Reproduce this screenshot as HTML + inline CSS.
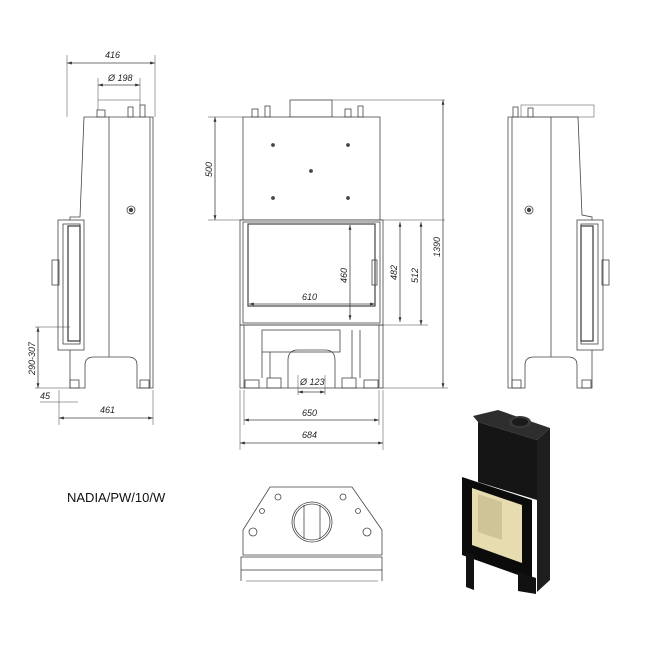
<!DOCTYPE html>
<html><head><meta charset="utf-8"><style>
html,body{margin:0;padding:0;background:#fff;width:650px;height:650px;overflow:hidden}
svg{display:block}
text{font-family:"Liberation Sans",Arial,sans-serif;font-size:9px;fill:#222;font-style:italic}
</style></head><body>
<svg width="650" height="650" viewBox="0 0 650 650" xmlns="http://www.w3.org/2000/svg">
<defs>
<marker id="a" viewBox="0 0 10 10" refX="10" refY="5" markerWidth="6" markerHeight="6" orient="auto-start-reverse"><path d="M0,2 L10,5 L0,8 z" fill="#333"/></marker>
</defs>
<g stroke="#444" stroke-width="0.8" fill="none">
<!-- LEFT SIDE VIEW -->
<path d="M84,117 L153,117 L153,388 L137,388 L137,365 Q137,357 128,357 L94,357 Q85,357 85,365 L85,388 L70,388 L70,217 L80,217 Z" fill="#fff"/>
<line x1="109" y1="117" x2="109" y2="357"/>
<line x1="150" y1="117" x2="150" y2="388"/>
<rect x="58" y="220" width="26" height="130" fill="#fff"/>
<rect x="63" y="224" width="17" height="120"/>
<rect x="68" y="226" width="12" height="115" stroke-width="1.3"/>
<rect x="52" y="260" width="7" height="25"/>
<rect x="97" y="110" width="8" height="7"/><rect x="128" y="107" width="5" height="10"/><rect x="140" y="105" width="5" height="12"/>
<circle cx="131" cy="210" r="4"/><circle cx="131" cy="210" r="1.8" fill="#444"/>
<rect x="70" y="380" width="9" height="8"/><rect x="140" y="380" width="9" height="8"/>
<line x1="67" y1="55" x2="67" y2="117" stroke-width="0.5"/><line x1="155" y1="55" x2="155" y2="117" stroke-width="0.5"/>
<line x1="67" y1="63" x2="155" y2="63" marker-start="url(#a)" marker-end="url(#a)"/>
<line x1="98" y1="78" x2="98" y2="110" stroke-width="0.5"/><line x1="140" y1="78" x2="140" y2="105" stroke-width="0.5"/>
<line x1="98" y1="85" x2="140" y2="85" marker-start="url(#a)" marker-end="url(#a)"/>
<line x1="98" y1="100" x2="140" y2="100" stroke-width="0.5"/>
<line x1="59" y1="390" x2="59" y2="425" stroke-width="0.5"/><line x1="153" y1="390" x2="153" y2="425" stroke-width="0.5"/>
<line x1="59" y1="418" x2="153" y2="418" marker-start="url(#a)" marker-end="url(#a)"/>
<line x1="40" y1="402" x2="78" y2="402" stroke-width="0.6"/>
<line x1="35" y1="327" x2="70" y2="327" stroke-width="0.5"/><line x1="35" y1="388" x2="70" y2="388" stroke-width="0.5"/>
<line x1="38" y1="327" x2="38" y2="388" marker-start="url(#a)" marker-end="url(#a)"/>

<!-- FRONT VIEW -->
<rect x="290" y="100" width="42" height="17"/>
<line x1="332" y1="100" x2="445" y2="100" stroke-width="0.5"/>
<rect x="243" y="117" width="137" height="103" fill="#fff"/>
<rect x="252" y="109" width="6" height="8"/><rect x="265" y="106" width="5" height="11"/><rect x="345" y="109" width="6" height="8"/><rect x="358" y="106" width="5" height="11"/>
<circle cx="273" cy="145" r="1.5" fill="#444"/><circle cx="348" cy="145" r="1.5" fill="#444"/><circle cx="311" cy="171" r="1.5" fill="#444"/><circle cx="273" cy="198" r="1.5" fill="#444"/><circle cx="348" cy="198" r="1.5" fill="#444"/>
<rect x="240" y="220" width="143" height="105" fill="#fff"/>
<rect x="243" y="222" width="137" height="101"/>
<rect x="248" y="224" width="127" height="82" stroke-width="1.2"/>
<rect x="372" y="260" width="5" height="25"/>
<rect x="240" y="325" width="143" height="63"/>
<rect x="262" y="330" width="78" height="22"/>
<line x1="244" y1="325" x2="244" y2="388"/><line x1="379" y1="325" x2="379" y2="388"/>
<line x1="262" y1="352" x2="262" y2="378"/><line x1="270" y1="352" x2="270" y2="378"/>
<line x1="352" y1="330" x2="352" y2="378"/><line x1="360" y1="330" x2="360" y2="378"/>
<path d="M288,388 L288,360 Q288,350 298,350 L325,350 Q335,350 335,360 L335,388"/>
<rect x="245" y="380" width="14" height="8"/><rect x="267" y="378" width="14" height="10"/><rect x="342" y="378" width="14" height="10"/><rect x="364" y="380" width="14" height="8"/>
<line x1="208" y1="117" x2="243" y2="117" stroke-width="0.5"/><line x1="208" y1="220" x2="445" y2="220" stroke-width="0.5"/>
<line x1="215" y1="117" x2="215" y2="220" marker-start="url(#a)" marker-end="url(#a)"/>
<line x1="443" y1="100" x2="443" y2="388" marker-start="url(#a)" marker-end="url(#a)"/>
<line x1="380" y1="388" x2="448" y2="388" stroke-width="0.5"/>
<line x1="380" y1="325" x2="428" y2="325" stroke-width="0.5"/>
<line x1="421" y1="222" x2="421" y2="325" marker-start="url(#a)" marker-end="url(#a)"/>
<line x1="400" y1="222" x2="400" y2="322" marker-start="url(#a)" marker-end="url(#a)"/>
<line x1="350" y1="225" x2="350" y2="320" marker-start="url(#a)" marker-end="url(#a)"/>
<line x1="249" y1="304" x2="375" y2="304" marker-start="url(#a)" marker-end="url(#a)"/>
<line x1="298" y1="375" x2="298" y2="395" stroke-width="0.5"/><line x1="325" y1="375" x2="325" y2="395" stroke-width="0.5"/>
<line x1="298" y1="392" x2="325" y2="392" marker-start="url(#a)" marker-end="url(#a)"/>
<line x1="240" y1="390" x2="240" y2="450" stroke-width="0.5"/><line x1="383" y1="390" x2="383" y2="450" stroke-width="0.5"/>
<line x1="244" y1="390" x2="244" y2="425" stroke-width="0.5"/><line x1="379" y1="390" x2="379" y2="425" stroke-width="0.5"/>
<line x1="244" y1="420" x2="379" y2="420" marker-start="url(#a)" marker-end="url(#a)"/>
<line x1="240" y1="443" x2="383" y2="443" marker-start="url(#a)" marker-end="url(#a)"/>

<!-- RIGHT SIDE VIEW -->
<path d="M508,117 L578,117 L582,215 L592,217 L592,388 L577,388 L577,365 Q577,357 568,357 L534,357 Q525,357 525,365 L525,388 L508,388 Z" fill="#fff"/>
<line x1="551" y1="117" x2="551" y2="357"/>
<line x1="512" y1="117" x2="512" y2="388"/>
<rect x="577" y="220" width="26" height="130" fill="#fff"/>
<rect x="581" y="224" width="17" height="120"/>
<rect x="581" y="226" width="12" height="115" stroke-width="1.3"/>
<rect x="602" y="260" width="7" height="25"/>
<rect x="521" y="105" width="73" height="12" stroke-width="0.5"/>
<rect x="513" y="107" width="5" height="10"/><rect x="528" y="108" width="5" height="9"/>
<circle cx="529" cy="210" r="4"/><circle cx="529" cy="210" r="1.8" fill="#444"/>
<rect x="512" y="380" width="9" height="8"/><rect x="582" y="380" width="9" height="8"/>

<!-- BOTTOM VIEW -->
<path d="M270,487 L352,487 L382,530 L382,555 L243,555 L243,530 Z" fill="#fff"/>
<circle cx="312" cy="522" r="20"/><circle cx="312" cy="522" r="18"/>
<line x1="304" y1="505" x2="304" y2="539"/><line x1="320" y1="505" x2="320" y2="539"/>
<circle cx="278" cy="497" r="3"/><circle cx="343" cy="497" r="3"/><circle cx="262" cy="511" r="2.5"/><circle cx="358" cy="511" r="2.5"/><circle cx="253" cy="532" r="4"/><circle cx="367" cy="532" r="4"/>
<rect x="241" y="557" width="141" height="13"/>
<line x1="241" y1="570" x2="241" y2="581"/><line x1="382" y1="570" x2="382" y2="581"/>
<line x1="246" y1="581" x2="378" y2="581" stroke-width="0.5"/>
</g>

<text x="105" y="58">416</text>
<text x="108" y="81">Ø 198</text>
<text x="100" y="413">461</text>
<text x="40" y="399">45</text>
<text transform="translate(35,375) rotate(-90)">290-307</text>
<text transform="translate(212,177) rotate(-90)">500</text>
<text transform="translate(440,257) rotate(-90)">1390</text>
<text transform="translate(418,283) rotate(-90)">512</text>
<text transform="translate(397,280) rotate(-90)">482</text>
<text transform="translate(347,283) rotate(-90)">460</text>
<text x="302" y="300">610</text>
<text x="300" y="385">Ø 123</text>
<text x="302" y="416">650</text>
<text x="302" y="438">684</text>
<text x="67" y="502" style="font-style:normal;font-size:13px;fill:#111">NADIA/PW/10/W</text>

<!-- 3D render -->
<g>
<polygon points="473,416 498,410 550,428 537,440 478,422" fill="#2e2e2e"/>
<polygon points="478,422 537,440 537,500 478,482" fill="#151515"/>
<polygon points="537,440 550,428 550,580 537,592" fill="#1e1e1e"/>
<polygon points="462,477 532,500 532,580 462,555" fill="#0b0b0b"/>
<polygon points="472,488 522,505 522,563 472,545" fill="#e6dcb0"/>
<polygon points="478,494 502,502 502,540 478,532" fill="#cfc497"/>
<polygon points="466,552 474,555 474,590 466,587" fill="#111"/>
<polygon points="518,572 536,578 536,594 518,591" fill="#111"/>
<ellipse cx="520" cy="422" rx="11" ry="6" fill="#3a3a3a"/>
<ellipse cx="520" cy="422" rx="8" ry="4" fill="#1a1a1a"/>
</g>
</svg>
</body></html>
